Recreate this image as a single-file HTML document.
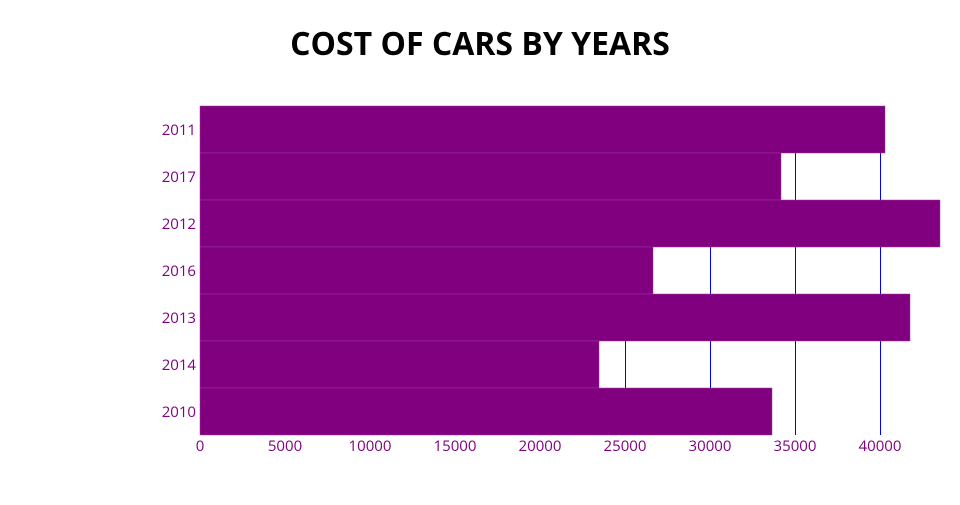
<!DOCTYPE html>
<html><head><style>body{margin:0;background:#fff}</style></head><body>
<svg width="960" height="500" xmlns="http://www.w3.org/2000/svg" font-family="'Open Sans','DejaVu Sans','Liberation Sans',sans-serif">
<text x="480" y="55" text-anchor="middle" font-size="32" font-weight="bold" fill="#000">COST OF CARS BY YEARS</text>
<g stroke="#0000ff" stroke-width="1">
<line x1="625.5" y1="106" x2="625.5" y2="435"/>
<line x1="710.5" y1="106" x2="710.5" y2="435"/>
<line x1="795.5" y1="106" x2="795.5" y2="435"/>
<line x1="880.5" y1="106" x2="880.5" y2="435"/>
</g>
<g fill="#800080" stroke="#9a3d9a" stroke-width="0.5">
<rect x="200" y="106" width="685" height="47"/>
<rect x="200" y="153" width="581" height="47"/>
<rect x="200" y="200" width="740" height="47"/>
<rect x="200" y="247" width="453" height="47"/>
<rect x="200" y="294" width="710" height="47"/>
<rect x="200" y="341" width="399" height="47"/>
<rect x="200" y="388" width="572" height="47"/>
</g>
<g fill="#800080" font-size="15" text-anchor="end">
<text x="196" y="135">2011</text>
<text x="196" y="182">2017</text>
<text x="196" y="229">2012</text>
<text x="196" y="276">2016</text>
<text x="196" y="323">2013</text>
<text x="196" y="370">2014</text>
<text x="196" y="417">2010</text>
</g>
<g fill="#800080" font-size="15" text-anchor="middle">
<text x="200" y="451">0</text>
<text x="285" y="451">5000</text>
<text x="370" y="451">10000</text>
<text x="455" y="451">15000</text>
<text x="540" y="451">20000</text>
<text x="625" y="451">25000</text>
<text x="710" y="451">30000</text>
<text x="795" y="451">35000</text>
<text x="880" y="451">40000</text>
</g>
</svg>
</body></html>
